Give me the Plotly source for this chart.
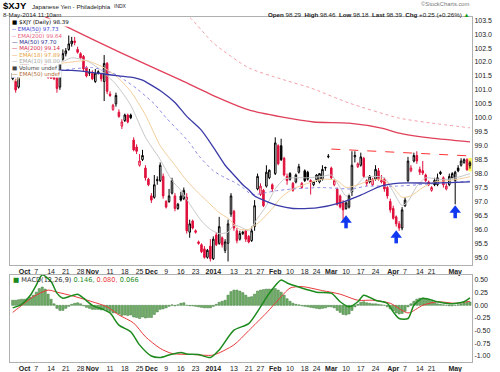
import plotly.graph_objects as go
import pandas as pd

# ---------------- data ----------------
holidays = ["2013-11-28", "2013-12-25", "2014-01-01", "2014-01-20", "2014-02-17", "2014-04-18"]
dates = [d.strftime("%Y-%m-%d") for d in pd.bdate_range("2013-09-25", "2014-05-08")
         if d.strftime("%Y-%m-%d") not in holidays]

opens = [101.40, 101.30, 101.10, 101.70, 101.95, 101.90, 102.70, 102.90, 102.70, 103.05,
         103.00, 102.50, 101.55, 101.50, 101.50, 101.43, 101.10, 102.10, 102.30, 102.45,
         102.65, 102.75, 102.45, 102.30, 102.20, 101.80, 101.60, 101.60, 101.30, 101.60,
         101.55, 101.30, 101.95, 100.85, 100.30, 100.50, 100.20, 99.70, 99.90, 100.10,
         100.10, 99.20, 98.95, 98.30, 98.50, 98.20, 97.80, 97.20, 97.15, 97.75,
         97.75, 97.90, 97.00, 97.00, 97.30, 97.20, 96.75, 97.20, 97.10, 97.15,
         95.90, 96.30, 95.95, 95.55, 95.45, 95.30, 95.00, 95.40, 94.95, 95.80,
         95.50, 95.70, 95.25, 95.50, 96.55, 96.65, 95.95, 95.65, 95.85, 95.95,
         95.75, 95.60, 96.10, 97.45, 97.25, 97.40, 97.55, 97.85, 97.60, 98.00,
         99.00, 99.00, 98.55, 97.90, 98.00, 97.65, 97.70, 98.05, 97.50, 98.10,
         98.05, 97.75, 97.60, 97.78, 97.70, 97.80, 98.20, 98.60, 98.20, 97.60,
         97.45, 97.20, 96.95, 96.75, 96.80, 97.35, 98.60, 98.25, 98.30, 98.55,
         97.75, 97.70, 97.60, 97.80, 98.10, 97.70, 97.80, 97.50, 97.00, 96.75,
         96.45, 96.20, 96.05, 96.85, 97.75, 98.10, 98.45, 98.65, 98.15, 98.10,
         97.95, 97.70, 97.40, 97.75, 97.60, 98.05, 97.85, 97.45, 97.60, 97.85,
         97.75, 98.20, 98.30, 98.40, 98.50, 98.29]
highs = [101.65, 101.40, 101.70, 102.10, 102.10, 102.80, 103.05, 103.00, 103.20, 103.25,
         103.10, 102.55, 101.60, 101.55, 101.60, 101.50, 102.25, 102.45, 102.50, 102.95,
         102.90, 102.90, 102.55, 102.35, 102.25, 101.85, 101.75, 101.70, 101.75, 101.70,
         101.60, 102.25, 102.00, 100.95, 100.50, 100.90, 100.30, 99.95, 100.15, 100.15,
         100.15, 99.30, 99.05, 98.70, 98.85, 98.30, 97.85, 97.30, 97.95, 97.90,
         98.40, 98.00, 97.05, 97.45, 97.85, 97.30, 96.95, 97.35, 97.50, 97.30,
         96.35, 96.35, 96.00, 95.60, 95.50, 95.40, 95.30, 95.65, 95.75, 95.90,
         96.45, 95.75, 95.65, 96.35, 97.30, 96.70, 96.05, 95.95, 95.95, 96.00,
         95.80, 96.10, 97.05, 98.00, 97.65, 97.45, 98.30, 98.15, 97.65, 99.30,
         99.05, 99.25, 98.60, 98.00, 98.05, 97.70, 98.00, 98.35, 97.70, 98.15,
         98.10, 97.80, 97.70, 97.98, 98.00, 98.30, 98.25, 98.70, 98.25, 97.80,
         97.50, 97.25, 97.05, 97.00, 97.25, 98.80, 98.80, 98.40, 98.75, 98.60,
         97.80, 97.95, 97.85, 98.30, 98.20, 97.95, 97.85, 97.55, 97.10, 96.85,
         96.50, 96.30, 96.80, 97.15, 98.60, 98.30, 98.75, 98.80, 98.25, 98.45,
         98.00, 97.75, 97.55, 97.85, 98.00, 98.10, 97.90, 97.65, 98.00, 98.05,
         98.10, 98.30, 98.55, 98.55, 98.55, 98.46]
lows = [101.35, 100.90, 101.05, 101.60, 101.70, 101.85, 102.60, 102.50, 102.65, 102.90,
        102.50, 101.75, 101.40, 101.40, 101.35, 100.90, 101.00, 102.05, 102.20, 102.40,
        102.55, 102.60, 102.30, 102.10, 101.65, 101.45, 101.50, 101.35, 101.25, 101.55,
        101.30, 100.60, 100.85, 100.75, 100.25, 100.40, 100.00, 99.60, 99.85, 99.80,
        99.95, 98.80, 98.70, 98.25, 98.45, 97.75, 97.55, 96.95, 97.10, 97.60,
        97.70, 97.10, 96.75, 96.95, 97.25, 96.65, 96.70, 97.00, 97.05, 95.85,
        95.70, 96.00, 95.85, 95.45, 95.15, 94.95, 94.95, 94.85, 94.90, 95.40,
        95.45, 95.35, 95.15, 94.85, 96.45, 95.95, 95.50, 95.60, 95.80, 95.55,
        95.50, 95.55, 95.95, 97.40, 97.20, 96.80, 97.50, 97.80, 97.35, 97.95,
        98.30, 98.45, 97.90, 97.60, 97.75, 97.35, 97.65, 98.00, 97.45, 97.70,
        97.75, 97.25, 97.55, 97.70, 97.65, 97.75, 98.10, 98.55, 97.80, 97.55,
        96.85, 96.75, 96.35, 96.70, 96.75, 97.20, 98.40, 98.20, 98.25, 97.85,
        97.55, 97.65, 97.55, 97.75, 97.75, 97.65, 97.35, 97.10, 96.60, 96.35,
        96.10, 95.95, 95.97, 96.80, 97.70, 98.05, 98.40, 98.35, 97.95, 97.95,
        97.70, 97.55, 97.35, 97.55, 97.55, 97.95, 97.50, 97.40, 97.55, 97.80,
        96.90, 98.05, 98.25, 98.35, 98.10, 98.18]
closes = [101.60, 101.00, 101.60, 102.00, 101.85, 102.65, 102.95, 102.60, 103.10, 103.05,
          102.60, 101.85, 101.45, 101.42, 101.40, 101.05, 102.10, 102.30, 102.40, 102.65,
          102.75, 102.70, 102.35, 102.15, 101.75, 101.50, 101.62, 101.40, 101.60, 101.65,
          101.40, 101.95, 100.95, 100.80, 100.45, 100.80, 100.05, 99.85, 100.10, 99.85,
          100.00, 98.85, 98.80, 98.45, 98.65, 97.85, 97.60, 97.05, 97.60, 97.78,
          98.30, 97.20, 96.80, 97.20, 97.75, 96.75, 96.90, 97.05, 97.40, 95.95,
          96.20, 96.05, 95.90, 95.50, 95.20, 95.00, 95.25, 94.95, 95.65, 95.45,
          96.10, 95.45, 95.55, 96.20, 97.20, 96.05, 95.60, 95.85, 95.90, 95.65,
          95.55, 95.95, 96.85, 97.90, 97.55, 96.85, 98.05, 98.12, 97.45, 99.10,
          98.35, 98.50, 97.95, 97.75, 97.80, 97.40, 97.95, 98.25, 97.65, 97.75,
          97.80, 97.70, 97.72, 97.95, 98.00, 98.15, 98.22, 98.62, 97.85, 97.75,
          96.90, 96.80, 96.70, 96.95, 97.20, 98.30, 98.65, 98.35, 98.60, 97.90,
          97.65, 97.90, 97.80, 98.15, 97.80, 97.75, 97.45, 97.20, 96.70, 96.40,
          96.20, 96.05, 96.70, 97.05, 98.45, 98.20, 98.65, 98.45, 98.05, 98.02,
          97.75, 97.60, 97.50, 97.60, 97.85, 98.00, 97.60, 97.55, 97.90, 98.00,
          98.05, 98.10, 98.45, 98.50, 98.14, 98.39]

# moving averages: (day index, value)
ma200_i = [0, 17, 36, 57, 69, 80, 91, 102, 114, 125, 131, 142, 155]
ma200_v = [104.15, 103.33, 102.36, 101.35, 100.75, 100.28, 100.03, 99.85, 99.81, 99.63, 99.45, 99.27, 99.14]
ema200_i = [50, 60, 68, 80, 91, 101, 114, 131, 142, 155]
ema200_v = [104.3, 103.6, 102.68, 101.79, 101.39, 101.07, 100.53, 99.99, 99.81, 99.64]
ma50_i = [0, 10, 20, 26, 31, 36, 41, 44, 47, 51, 55, 59, 64, 68, 72, 75, 78, 80, 82, 85, 90, 95,
          103, 111, 118, 125, 131, 142, 155]
ma50_v = [101.80, 101.72, 101.70, 101.64, 101.57, 101.50, 101.44, 101.35, 101.17, 100.90, 100.55,
          100.05, 99.55, 98.95, 98.30, 97.95, 97.60, 97.42, 97.20, 97.05, 96.85, 96.75,
          96.77, 96.95, 97.23, 97.56, 97.66, 97.66, 97.70]
ema50_i = [0, 10, 20, 27, 31, 35, 38, 42, 45, 48, 52, 57, 60, 63, 68, 72, 75, 78, 81, 85, 89, 95,
           105, 115, 120, 130, 140, 148, 155]
ema50_v = [101.45, 101.60, 101.75, 101.80, 101.70, 101.55, 101.35, 101.05, 100.78, 100.50, 100.00,
           99.45, 99.10, 98.65, 98.10, 97.85, 97.70, 97.50, 97.25, 97.30, 97.38, 97.45,
           97.50, 97.45, 97.55, 97.55, 97.62, 97.68, 97.73]
ema18_i = [0, 5, 10, 15, 20, 25, 30, 35, 40, 45, 50, 55, 59, 63, 66, 70, 73, 77, 80, 84, 88, 91,
           95, 100, 105, 110, 113, 117, 121, 125, 129, 132, 135, 139, 143, 148, 152, 155]
ema18_v = [101.30, 101.60, 102.10, 101.95, 102.00, 102.05, 101.85, 101.50, 100.95, 100.10, 99.00,
           98.30, 97.75, 97.30, 97.00, 96.60, 96.40, 96.00, 96.00, 96.30, 96.75, 97.15,
           97.45, 97.65, 97.80, 97.75, 97.50, 97.60, 97.75, 97.80, 97.50, 97.15, 97.20,
           97.50, 97.70, 97.75, 97.82, 97.89]
ema10_i = [0, 5, 10, 15, 20, 25, 30, 35, 40, 45, 50, 54, 57, 61, 64, 67, 70, 73, 75, 77, 80, 83,
           86, 89, 92, 95, 100, 105, 108, 111, 113, 116, 119, 122, 126, 129, 132, 134, 137, 140,
           144, 148, 152, 155]
ema10_v = [101.45, 101.90, 102.50, 101.95, 102.15, 102.05, 101.70, 101.20, 100.45, 99.30, 98.50,
           97.75, 97.40, 96.75, 96.30, 96.00, 95.85, 95.90, 96.15, 96.10, 95.95, 96.40,
           96.85, 97.45, 97.80, 97.85, 97.85, 97.90, 97.95, 97.50, 97.20, 97.50, 97.85, 97.90,
           97.85, 97.35, 96.85, 97.00, 97.55, 97.85, 97.80, 97.80, 97.90, 98.00]

# MACD(12,26,9)
macd_i = [0, 2, 3, 6, 8, 10, 13, 15, 17, 19, 22, 24, 27, 31, 33, 36, 40, 43, 47, 50, 53, 57, 59,
          63, 67, 70, 75, 80, 84, 87, 91, 93, 97, 103, 108, 111, 114, 117, 119, 123, 127, 129,
          131, 134, 136, 139, 144, 148, 153, 155]
macd_v = [-0.05, -0.01, 0.02, 0.20, 0.40, 0.60, 0.47, 0.24, 0.14, 0.17, 0.22, 0.14, 0.00, -0.09,
          -0.15, -0.39, -0.52, -0.78, -1.00, -1.03, -0.98, -0.93, -0.96, -0.97, -1.03, -0.88,
          -0.49, -0.36, -0.03, 0.24, 0.50, 0.44, 0.36, 0.26, 0.24, 0.07, -0.03, 0.07, 0.20,
          0.10, 0.04, -0.13, -0.26, -0.26, 0.00, 0.14, 0.07, 0.03, 0.07, 0.146]
signal_i = [0, 2, 7, 12, 15, 20, 27, 32, 36, 41, 45, 50, 54, 61, 68, 75, 80, 86, 91, 94, 98, 105,
            111, 117, 122, 128, 134, 139, 144, 150, 155]
signal_v = [-0.14, -0.05, 0.17, 0.30, 0.26, 0.19, 0.07, -0.03, -0.19, -0.35, -0.62, -0.85, -0.95,
            -0.97, -0.98, -0.78, -0.50, -0.15, 0.17, 0.34, 0.37, 0.29, 0.22, 0.10, 0.10, 0.04,
            -0.15, 0.00, 0.07, 0.04, 0.080]
hist = [0.10, 0.10, 0.11, 0.12, 0.12, 0.13, 0.16, 0.20, 0.26, 0.33,
        0.36, 0.32, 0.22, 0.12, 0.03, -0.06, -0.10, -0.10, -0.06, -0.02,
        0.02, 0.04, 0.05, 0.03, -0.01, -0.04, -0.06, -0.08, -0.08, -0.08,
        -0.09, -0.07, -0.10, -0.12, -0.15, -0.15, -0.17, -0.20, -0.19, -0.20,
        -0.19, -0.23, -0.24, -0.26, -0.23, -0.25, -0.24, -0.24, -0.18, -0.13,
        -0.08, -0.07, -0.05, -0.02, 0.01, -0.01, 0.01, 0.04, 0.05, 0.00,
        -0.01, -0.01, -0.02, -0.03, -0.04, -0.05, -0.05, -0.05, -0.02, 0.02,
        0.06, 0.08, 0.10, 0.20, 0.27, 0.30, 0.30, 0.28, 0.25, 0.20,
        0.16, 0.17, 0.22, 0.28, 0.30, 0.31, 0.32, 0.32, 0.32, 0.33,
        0.30, 0.26, 0.20, 0.13, 0.08, 0.04, 0.02, 0.01, -0.01, -0.02,
        -0.03, -0.04, -0.05, -0.06, -0.07, -0.06, -0.05, -0.03, -0.03, -0.05,
        -0.10, -0.14, -0.18, -0.19, -0.17, -0.10, -0.03, 0.02, 0.06, 0.07,
        0.05, 0.04, 0.03, 0.03, 0.02, 0.01, 0.00, -0.03, -0.07, -0.11,
        -0.15, -0.17, -0.16, -0.12, -0.03, 0.03, 0.08, 0.12, 0.14, 0.14,
        0.13, 0.11, 0.08, 0.05, 0.03, 0.02, 0.01, 0.00, -0.01, -0.01,
        0.00, 0.01, 0.03, 0.05, 0.06, 0.066]

# blue "bottom" arrows: day index and price of the arrow tip
arrow_i = [113, 130, 150]
arrow_tip = [96.42, 95.88, 96.78]

tick_dates = ["2013-10-01", "2013-10-07", "2013-10-14", "2013-10-21", "2013-10-28", "2013-11-01",
              "2013-11-11", "2013-11-18", "2013-11-25", "2013-12-02", "2013-12-09", "2013-12-16",
              "2013-12-23", "2014-01-02", "2014-01-13", "2014-01-21", "2014-01-27", "2014-02-03",
              "2014-02-10", "2014-02-18", "2014-02-24", "2014-03-03", "2014-03-10", "2014-03-17",
              "2014-03-24", "2014-04-01", "2014-04-07", "2014-04-14", "2014-04-21", "2014-05-01"]
tick_text = ["<b>Oct</b>", "7", "14", "21", "28", "<b>Nov</b>", "11", "18", "25", "<b>Dec</b>", "9",
             "16", "23", "<b>2014</b>", "13", "21", "27", "<b>Feb</b>", "10", "18", "24", "<b>Mar</b>",
             "10", "17", "24", "<b>Apr</b>", "7", "14", "21", "<b>May</b>"]
price_ticks = [95.0 + 0.5 * k for k in range(18)]
macd_ticks = [0.5, 0.25, 0.0, -0.25, -0.5, -0.75, -1.0]

# ---------------- layout helpers ----------------
W, H = 500, 372
L, R, T, B = 10, 28, 17, 10
PW, PH = W - L - R, H - T - B


def px(x):
    return (x - L) / PW


def py(y):
    return (H - B - y) / PH


RED = "#e0103c"
BLK = "#000000"
BLUE_ARROW = "#1038f0"
FONT = "Liberation Sans"
SMALL = "DejaVu Sans"

fig = go.Figure()

shapes = [
    dict(type="rect", xref="x", yref="y", x0=154.45, x1=155.6, y0=98.08, y1=98.56,
         fillcolor="#ffff55", line=dict(width=0), layer="below"),
    dict(type="line", xref="x", yref="y", x0=108, x1=155.7, y0=98.88, y1=98.63,
         line=dict(color="#ff3030", width=1, dash="dash")),
]


def line(idx, vals, color, width=1.0, dash="solid"):
    fig.add_trace(go.Scatter(x=[dates[i] for i in idx], y=vals, mode="lines",
                             line=dict(color=color, width=width, dash=dash, shape="spline", smoothing=0.6),
                             hoverinfo="skip", showlegend=False, xaxis="x", yaxis="y"))


line(ema200_i, ema200_v, "#f4a0a8", 1.0, "dot")
line(ma200_i, ma200_v, "#e0405a", 1.3)
line(ema10_i, ema10_v, "#c8c8c8", 1.0)
line(ema18_i, ema18_v, "#f2cf9c", 1.0)
line(ema50_i, ema50_v, "#8c8ce6", 1.0, "dot")
line(ma50_i, ma50_v, "#3a3aa8", 1.3)

# candles: black when close >= previous close, red otherwise
black_idx, red_idx = [], []
for i in range(len(dates)):
    if i == 0 or closes[i] >= closes[i - 1]:
        black_idx.append(i)
    else:
        red_idx.append(i)

for idx, col in ((black_idx, BLK), (red_idx, RED)):
    fig.add_trace(go.Candlestick(
        x=[dates[i] for i in idx], open=[opens[i] for i in idx], high=[highs[i] for i in idx],
        low=[lows[i] for i in idx], close=[closes[i] for i in idx],
        increasing=dict(line=dict(color=col, width=1), fillcolor="white"),
        decreasing=dict(line=dict(color=col, width=1), fillcolor=col),
        whiskerwidth=0, showlegend=False, hoverinfo="skip", xaxis="x", yaxis="y"))

# blue arrows (triangle head + stem)
for ai, tip in zip(arrow_i, arrow_tip):
    shapes.append(dict(type="rect", xref="x", yref="y", x0=ai - 0.6, x1=ai + 0.6,
                       y0=tip - 0.38, y1=tip - 0.15, fillcolor=BLUE_ARROW, line=dict(width=0)))
fig.add_trace(go.Scatter(x=[dates[i] for i in arrow_i], y=[t - 0.09 for t in arrow_tip], mode="markers",
                         marker=dict(symbol="triangle-up", size=10, color=BLUE_ARROW, line=dict(width=0)),
                         hoverinfo="skip", showlegend=False, xaxis="x", yaxis="y"))

# MACD panel
fig.add_trace(go.Bar(x=dates, y=hist, marker=dict(color="#74b06a", line=dict(color="#3c7a3a", width=0.5)),
                     showlegend=False, hoverinfo="skip", xaxis="x2", yaxis="y2"))
fig.add_trace(go.Scatter(x=[dates[i] for i in signal_i], y=signal_v, mode="lines",
                         line=dict(color="#e83a3a", width=1, shape="spline", smoothing=0.7),
                         showlegend=False, hoverinfo="skip", xaxis="x2", yaxis="y2"))
fig.add_trace(go.Scatter(x=[dates[i] for i in macd_i], y=macd_v, mode="lines",
                         line=dict(color="#1d8a1d", width=1.5, shape="spline", smoothing=0.7),
                         showlegend=False, hoverinfo="skip", xaxis="x2", yaxis="y2"))

xr = [-0.92, 155.7]
axis_common = dict(type="category", categoryorder="array", categoryarray=dates, range=xr,
                   tickmode="array", tickvals=tick_dates, ticktext=tick_text, tickangle=0,
                   tickfont=dict(family=FONT, size=7, color="#222"), ticks="", showgrid=False,
                   showline=True, mirror=True, linecolor="#b0b0b0", linewidth=1, zeroline=False,
                   fixedrange=True, automargin=False)
fig.update_layout(
    width=W, height=H, margin=dict(l=L, r=R, t=T, b=B),
    paper_bgcolor="white", plot_bgcolor="white",
    boxmode="overlay", boxgap=0.25, bargap=0.25,
    xaxis=dict(axis_common, domain=[0, 1], anchor="y", rangeslider=dict(visible=False)),
    xaxis2=dict(axis_common, domain=[0, 1], anchor="y2", matches="x"),
    yaxis=dict(domain=[py(265), 1], range=[94.724, 103.613], side="right", tickmode="array",
               tickvals=price_ticks, ticktext=[f"{v:.1f}" for v in price_ticks],
               tickfont=dict(family=FONT, size=7, color="#222"), showgrid=False, ticks="",
               showline=True, mirror=True, linecolor="#b0b0b0", zeroline=False, fixedrange=True,
               automargin=False),
    yaxis2=dict(domain=[0, py(275)], range=[-1.118, 0.598], side="right", tickmode="array",
                tickvals=macd_ticks, ticktext=[f"{v:.2f}" for v in macd_ticks],
                tickfont=dict(family=FONT, size=7, color="#222"), showgrid=False, ticks="",
                showline=True, mirror=True, linecolor="#b0b0b0", zeroline=False, fixedrange=True,
                automargin=False),
    shapes=shapes,
    showlegend=False,
)

ann = []


def text(x, y, s, size=7, color="#000", family=FONT, anchor="left", bg=None):
    d = dict(xref="paper", yref="paper", x=px(x), y=py(y), text=s, showarrow=False,
             xanchor=anchor, yanchor="middle", font=dict(family=family, size=size, color=color))
    if bg:
        d["bgcolor"] = bg
        d["borderpad"] = 0
    ann.append(d)


# header
text(1, 5.2, "<b>$XJY</b>", 9.5)
text(30, 6.0, "Japanese Yen - Philadelphia", 6.2, "#222")
text(112, 6.5, "INDX", 5.0, "#222")
text(1, 14.6, "8-May-2014 11:10am", 6.2, "#222")
text(472, 4.2, "\u00a9StockCharts.com", 5.8, "#777", anchor="right")
text(472, 14.4, "<b>Open</b> 98.29  <b>High</b> 98.46  <b>Low</b> 98.18  <b>Last</b> 98.39  "
     "<b>Chg</b> +0.25 (+0.26%) <span style='color:#1a9a1a'>\u25b2</span>", 6.2, "#222", anchor="right")

# price legend
leg = [
    ("\u25a0 $XJY (Daily) 98.39", "#000"),
    ("-- EMA(50) 97.73", "#3a3ad0"),
    ("-- EMA(200) 99.64", "#e8607a"),
    ("\u2014 MA(50) 97.70", "#2a2a90"),
    ("\u2014 MA(200) 99.14", "#d8284e"),
    ("\u2014 EMA(18) 97.89", "#e8a040"),
    ("\u2014 EMA(10) 98.00", "#a8a8a8"),
    ("\u25a0 Volume undef", "#444"),
    ("\u2014 EMA(50) undef", "#b06a30"),
]
for k, (s, c) in enumerate(leg):
    text(11, 22.8 + 6.4 * k, s, 5.5, c, SMALL, bg="white")

# MACD legend
text(11, 279.5, "<span style='color:#1d8a1d'>\u25a0</span> MACD(12,26,9) "
     "<span style='color:#1d8a1d'>0.146,</span> <span style='color:#e83a3a'>0.080,</span> "
     "<span style='color:#1d8a1d'>0.066</span>", 6.6, "#333", SMALL)

fig.update_layout(annotations=ann)
fig.write_html("out.html", config={"displayModeBar": False, "staticPlot": True},
               post_script="document.body.style.margin='0';document.body.style.padding='0';")
